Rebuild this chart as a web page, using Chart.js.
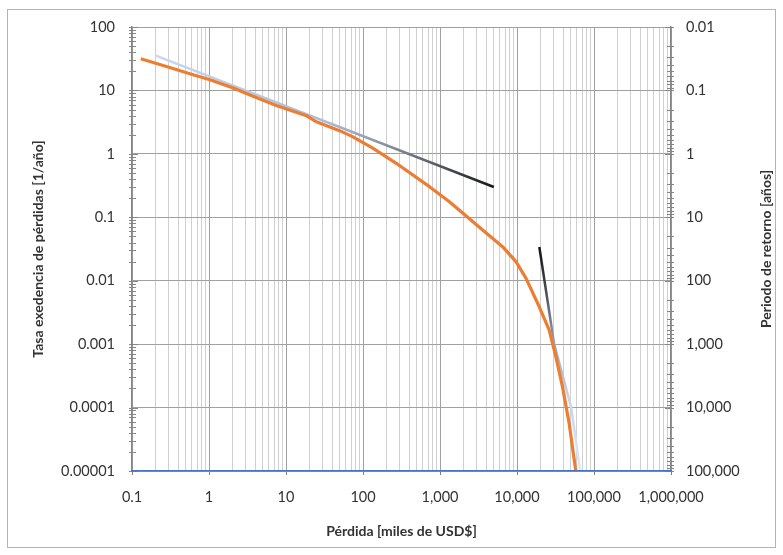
<!DOCTYPE html>
<html><head><meta charset="utf-8">
<script src="https://cdn.jsdelivr.net/npm/chart.js@4"></script>
<style>html,body{margin:0;padding:0;background:#fff}canvas{display:block}</style>
</head><body>
<canvas id="c" width="783" height="555"></canvas>
<script>
// ---- data ----
const lossK = [0.13, 0.28, 0.62, 1.03, 2.06, 3.74, 7.5, 18.4, 24.8, 49.6, 74, 134, 270, 730, 1325, 3580, 6500, 9700, 13100, 19450, 26200, 32000, 39000, 47600, 58000];
const exceedRate = [31.6, 23.9, 17.7, 14.7, 10.9, 8.1, 5.8, 4.0, 3.2, 2.32, 1.85, 1.23, 0.71, 0.304, 0.176, 0.063, 0.0344, 0.02, 0.0109, 0.00388, 0.00166, 0.00063, 0.000212, 0.000056, 0.00001];
const tangentLowX = [0.2, 5000];
const tangentLowY = [35.6, 0.30];
const tangentHighX = [19500, 30400, 50600, 66000];
const tangentHighY = [0.034, 0.001, 0.0001, 0.00001];

const xMajorTicks = [0.1, 1, 10, 100, 1000, 10000, 100000, 1000000];
const xTickLabels = ['0.1', '1', '10', '100', '1,000', '10,000', '100,000', '1,000,000'];
const yMajorTicks = [0.00001, 0.0001, 0.001, 0.01, 0.1, 1, 10, 100];
const yTickLabels = ['0.00001', '0.0001', '0.001', '0.01', '0.1', '1', '10', '100'];
const y2MajorTicks = [0.01, 0.1, 1, 10, 100, 1000, 10000, 100000];
const y2TickLabels = ['0.01', '0.1', '1', '10', '100', '1,000', '10,000', '100,000'];

const FONT = 'Lato, "Open Sans", sans-serif';
const TXT = '#333333';

function withMinors(majors) {
  const out = [];
  majors.forEach((m, i) => {
    out.push({value: m, major: true});
    if (i < majors.length - 1) {
      for (let k = 2; k <= 9; k++) out.push({value: +(m * k).toPrecision(12), major: false});
    }
  });
  return out;
}
function labeler(majors, labels) {
  return function (value, index, ticks) {
    const t = ticks[index];
    if (!t || !t.major) return '';
    const j = majors.findIndex(m => Math.abs(Math.log10(m) - Math.log10(value)) < 1e-6);
    return j >= 0 ? labels[j] : '';
  };
}
function pts(xs, ys) { return xs.map((x, i) => ({x: x, y: ys[i]})); }

function gradLow(ctx) {
  const chart = ctx.chart;
  if (!chart.chartArea) return '#9aa6bb';
  const xs = chart.scales.x;
  const x0 = xs.getPixelForValue(tangentLowX[0]);
  const x1 = xs.getPixelForValue(tangentLowX[tangentLowX.length - 1]);
  const g = chart.ctx.createLinearGradient(x0, 0, x1, 0);
  g.addColorStop(0, '#c9d8f0');
  g.addColorStop(0.5, '#adbcd6');
  g.addColorStop(0.67, '#8c94a4');
  g.addColorStop(0.82, '#5b606b');
  g.addColorStop(1, '#15151a');
  return g;
}
function gradHigh(ctx) {
  const chart = ctx.chart;
  if (!chart.chartArea) return '#9aa6bb';
  const ys = chart.scales.y;
  const y0 = ys.getPixelForValue(tangentHighY[0]);
  const y1 = ys.getPixelForValue(tangentHighY[tangentHighY.length - 1]);
  const g = chart.ctx.createLinearGradient(0, y0, 0, y1);
  g.addColorStop(0, '#111116');
  g.addColorStop(0.22, '#50545e');
  g.addColorStop(0.43, '#98a5bf');
  g.addColorStop(0.67, '#c6d4ec');
  g.addColorStop(1, '#dde7f5');
  return g;
}

const framePlugin = {
  id: 'frame',
  beforeDraw(chart) {
    const c = chart.ctx;
    c.save();
    c.fillStyle = '#ffffff';
    c.fillRect(0, 0, chart.width, chart.height);
    c.strokeStyle = '#b4b4b4';
    c.lineWidth = 1;
    c.strokeRect(7.5, 9.5, 768, 538);
    c.restore();
  }
};
const tickMarks = {
  id: 'tickMarks',
  beforeDatasetsDraw(chart) {
    const c = chart.ctx;
    const a = chart.chartArea;
    c.save();
    c.strokeStyle = '#868686';
    c.lineWidth = 1;
    const ys = chart.scales.y;
    ys.ticks.forEach(t => {
      const py = Math.round(ys.getPixelForValue(t.value)) + 0.5;
      c.beginPath();
      c.moveTo(a.left - 3, py);
      c.lineTo(a.left + (t.major ? 6 : 4), py);
      c.stroke();
    });
    const y2 = chart.scales.y2;
    y2.ticks.forEach(t => {
      const py = Math.round(y2.getPixelForValue(t.value)) + 0.5;
      c.beginPath();
      c.moveTo(a.right - (t.major ? 6 : 4), py);
      c.lineTo(a.right + 3, py);
      c.stroke();
    });
    c.restore();
  }
};
const rightTitle = {
  id: 'rightTitle',
  afterDraw(chart) {
    const c = chart.ctx;
    const a = chart.chartArea;
    c.save();
    c.translate(766, (a.top + a.bottom) / 2);
    c.rotate(-Math.PI / 2);
    c.font = 'bold 14px ' + FONT;
    c.fillStyle = TXT;
    c.textAlign = 'center';
    c.textBaseline = 'middle';
    c.fillText('Periodo de retorno [años]', 0, 0);
    c.restore();
  }
};

new Chart(document.getElementById('c'), {
  type: 'line',
  data: {
    datasets: [
      {label: 'Curva de excedencia', data: pts(lossK, exceedRate), borderColor: '#ed7d31', borderWidth: 3.2,
       pointRadius: 0, tension: 0, borderJoinStyle: 'round', order: 0, yAxisID: 'y'},
      {label: 'Tendencia baja', data: pts(tangentLowX, tangentLowY), borderColor: gradLow, borderWidth: 2.5,
       pointRadius: 0, order: 1, yAxisID: 'y'},
      {label: 'Tendencia alta', data: pts(tangentHighX, tangentHighY), borderColor: gradHigh, borderWidth: 2.5,
       pointRadius: 0, order: 2, yAxisID: 'y'}
    ]
  },
  options: {
    responsive: false,
    animation: false,
    devicePixelRatio: 1,
    layout: {padding: {top: 27, left: 0, right: 0, bottom: 0}},
    plugins: {legend: {display: false}, tooltip: {enabled: false}},
    scales: {
      x: {
        type: 'logarithmic', position: 'bottom', min: 0.1, max: 1000000,
        afterBuildTicks: s => { s.ticks = withMinors(xMajorTicks); },
        afterFit: s => { s.height = 84; },
        grid: {
          color: c => (c.tick && c.tick.major) ? '#a0a0a0' : '#d0d0d0',
          lineWidth: 1, drawTicks: true, tickLength: 4,
          tickColor: c => (c.tick && c.tick.major) ? '#7f7f7f' : 'rgba(0,0,0,0)'
        },
        border: {color: '#4472c4', width: 1.5, z: 1},
        ticks: {autoSkip: false, maxRotation: 0, minRotation: 0, padding: 14, color: TXT,
                font: {family: FONT, size: 14.5}, callback: labeler(xMajorTicks, xTickLabels)},
        title: {display: true, text: 'Pérdida [miles de USD$]', color: TXT,
                font: {family: FONT, size: 14, weight: 'bold', lineHeight: 1}, padding: {top: 0, bottom: 17}}
      },
      y: {
        type: 'logarithmic', position: 'left', min: 0.00001, max: 100,
        afterBuildTicks: s => { s.ticks = withMinors(yMajorTicks); },
        afterFit: s => { s.width = 132; },
        grid: {color: c => (c.tick && c.tick.major) ? '#a0a0a0' : 'rgba(0,0,0,0)', lineWidth: 1, drawTicks: false},
        border: {color: '#868686', width: 1.5},
        ticks: {autoSkip: false, padding: 17, color: TXT, font: {family: FONT, size: 14.5},
                callback: labeler(yMajorTicks, yTickLabels)},
        title: {display: true, text: 'Tasa exedencia de pérdidas [1/año]', color: TXT,
                font: {family: FONT, size: 14, weight: 'bold', lineHeight: 1}, padding: {top: 31, bottom: 0}}
      },
      y2: {
        type: 'logarithmic', position: 'right', min: 0.01, max: 100000, reverse: true,
        afterBuildTicks: s => { s.ticks = withMinors(y2MajorTicks); },
        afterFit: s => { s.width = 112; },
        grid: {drawOnChartArea: false, drawTicks: false},
        border: {color: '#868686', width: 1.5},
        ticks: {autoSkip: false, padding: 15, color: TXT, font: {family: FONT, size: 14.5},
                callback: labeler(y2MajorTicks, y2TickLabels)},
        title: {display: false}
      }
    }
  },
  plugins: [framePlugin, tickMarks, rightTitle]
});
</script>
</body></html>
